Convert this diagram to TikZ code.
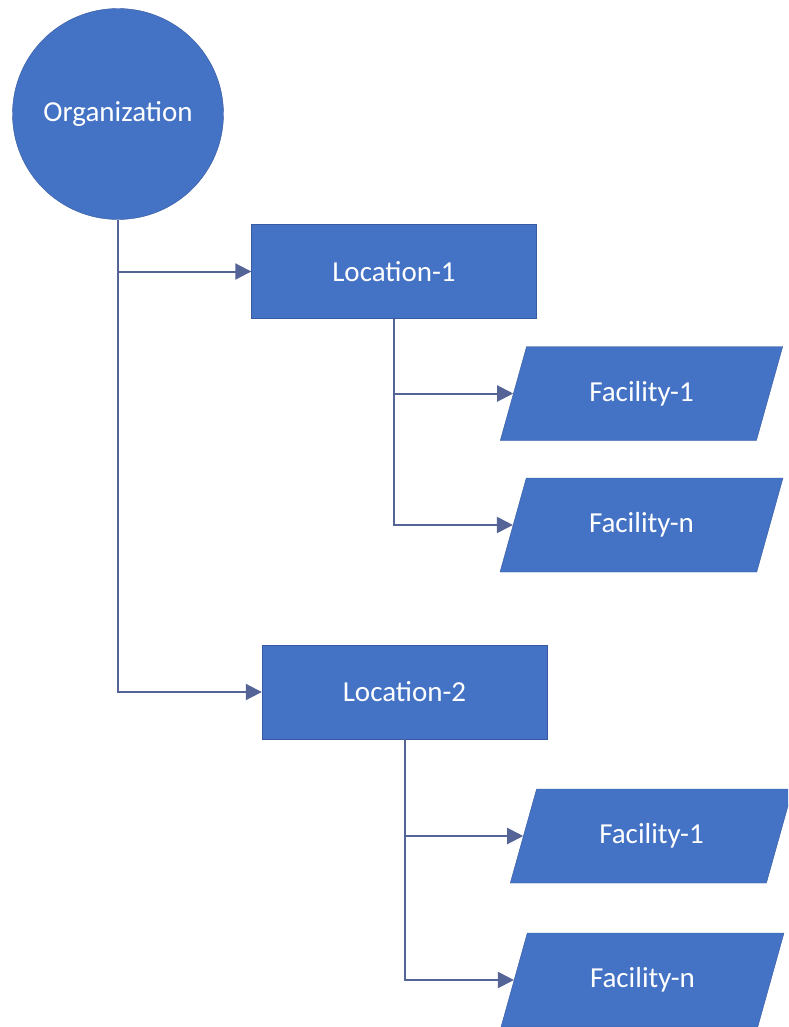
\documentclass[tikz,border=0pt]{standalone}
\usepackage{fontspec}
\setmainfont{Carlito}
\usepackage{tikz}
\usetikzlibrary{shapes,arrows.meta,positioning,calc}

\definecolor{boxblue}{RGB}{68,114,196}
\definecolor{edgeblue}{RGB}{55,90,160}
\definecolor{linkblue}{RGB}{85,100,150}

\begin{document}
\begin{tikzpicture}[
    x=1pt, y=-1pt,
    every node/.style={text=white, font=\fontsize{29}{33}\selectfont},
    orgnode/.style={draw=edgeblue, circle, fill=boxblue, minimum size=211pt, inner sep=0pt},
    locbox/.style={draw=edgeblue, rectangle, fill=boxblue, minimum width=285pt, minimum height=94pt},
    facbox/.style={draw=edgeblue, trapezium, trapezium left angle=68, trapezium right angle=112,
        trapezium stretches=true, fill=boxblue, minimum width=283pt, minimum height=94pt},
    link/.style={draw=linkblue, line width=2pt, -{Triangle[length=16pt,width=16pt]}}
]
    \clip (0,0) rectangle (788,1027);
    \fill[white] (0,0) rectangle (788,1027);

    \node[orgnode] (org) at (118,114) {Organization};
    \node[locbox] (loc1) at (394,271.5) {Location-1};
    \node[locbox] (loc2) at (404.5,692) {Location-2};

    \node[facbox] (fac11) at (641.5,393.5) {Facility-1};
    \node[facbox] (fac1n) at (641.5,525) {Facility-n};
    \node[facbox] (fac21) at (651.5,836) {Facility-1};
    \node[facbox] (fac2n) at (642.5,980) {Facility-n};

    \draw[link] (org.south) |- (loc1.west);
    \draw[link] (org.south) |- (loc2.west);
    \draw[link] (loc1.south) |- (fac11.west);
    \draw[link] (loc1.south) |- (fac1n.west);
    \draw[link] (loc2.south) |- (fac21.west);
    \draw[link] (loc2.south) |- (fac2n.west);
\end{tikzpicture}
\end{document}
